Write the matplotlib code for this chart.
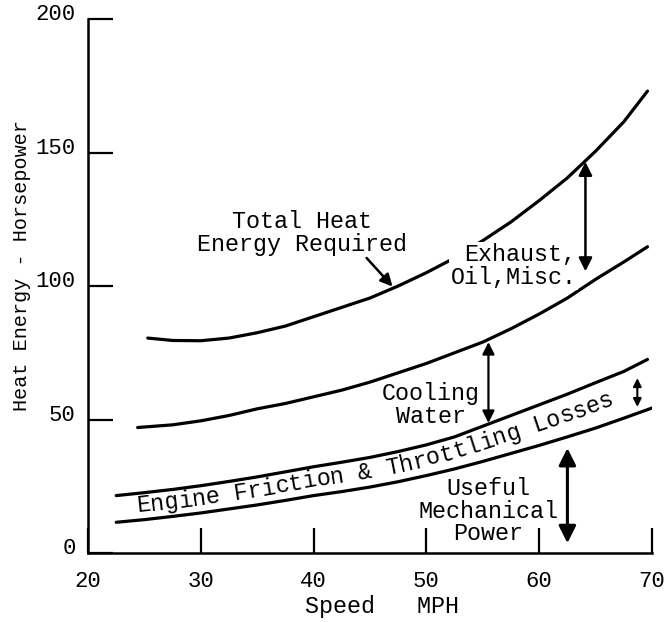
import numpy as np
import matplotlib
matplotlib.use("Agg")
import matplotlib.pyplot as plt
from matplotlib.transforms import ScaledTranslation

# curves (speed in MPH, heat energy in hp)
total_x = [25.3, 27.5, 30, 32.5, 35, 37.5, 40, 42.5, 45, 47.5, 50, 52.5,
           55, 57.5, 60, 62.5, 65, 67.5, 69.6]
total_y = [80.5, 79.6, 79.5, 80.5, 82.5, 85, 88.5, 92, 95.5, 100, 105, 110.5,
           117, 124, 132, 140.5, 150.5, 161.5, 173]

cool_x = [24.4, 27.5, 30, 32.5, 35, 37.5, 40, 42.5, 45, 47.5, 50, 52.5,
          55, 57.5, 60, 62.5, 65, 67.5, 69.6]
cool_y = [47, 48, 49.5, 51.5, 54, 56, 58.5, 61, 64, 67.5, 71, 75,
          79, 84, 89.5, 95.5, 102.5, 109, 114.7]

fric_x = [22.5, 25, 27.5, 30, 32.5, 35, 37.5, 40, 42.5, 45, 47.5, 50,
          52.5, 55, 57.5, 60, 62.5, 65, 67.5, 69.6]
fric_y = [21.5, 22.6, 23.8, 25.2, 26.8, 28.5, 30.4, 32.3, 34, 35.8, 38, 40.5,
          43.5, 47.5, 51.5, 55.5, 59.5, 63.8, 68, 72.5]

mech_x = [22.5, 25, 27.5, 30, 32.5, 35, 37.5, 40, 42.5, 45, 47.5, 50,
          52.5, 55, 57.5, 60, 62.5, 65, 67.5, 70]
mech_y = [11.5, 12.5, 13.7, 15, 16.5, 18, 19.7, 21.5, 23, 24.7, 26.7, 29,
          31.5, 34.3, 37.3, 40.3, 43.5, 46.8, 50.5, 54.3]

x_ticks = [20, 30, 40, 50, 60, 70]
y_ticks = [0, 50, 100, 150, 200]

band_text = "Engine Friction & Throttling Losses"

FONT = ["Liberation Mono", "DejaVu Sans Mono"]
plt.rcParams["font.family"] = FONT
FS = 16.8

fig = plt.figure(figsize=(6.64, 6.22), dpi=100)
ax = fig.add_axes([88 / 664, 1 - 553 / 622, (652 - 88) / 664, (553 - 19) / 622])

ax.set_xlim(20, 70)
ax.set_ylim(0, 200)
for s in ["top", "right"]:
    ax.spines[s].set_visible(False)
for s in ["left", "bottom"]:
    ax.spines[s].set_linewidth(1.8)

ax.set_xticks(x_ticks)
ax.set_yticks(y_ticks)
ax.tick_params(direction="in", length=18, width=1.6, labelsize=16)
ax.tick_params(axis="x", pad=13)
ax.tick_params(axis="y", pad=9)
for lab in ax.get_yticklabels():
    lab.set_transform(lab.get_transform() + ScaledTranslation(0, 5 / 72, fig.dpi_scale_trans))

lw = 2.3
for cx, cy in [(total_x, total_y), (cool_x, cool_y), (fric_x, fric_y), (mech_x, mech_y)]:
    ax.plot(cx, cy, color="black", lw=lw, solid_capstyle="round",
            solid_joinstyle="round", zorder=2)

# labels
ax.text(39, 120, "Total Heat\nEnergy Required", fontsize=FS, ha="center", va="center",
        linespacing=1.0)
ax.text(63.3, 107.5, "Exhaust,\nOil,Misc.", fontsize=FS, ha="right", va="center",
        multialignment="right", linespacing=1.0, zorder=3,
        bbox=dict(facecolor="white", edgecolor="none", pad=1))
ax.text(50.4, 55.4, "Cooling\nWater", fontsize=FS, ha="center", va="center",
        linespacing=1.0)
ax.text(55.5, 15.7, "Useful\nMechanical\nPower", fontsize=FS, ha="center", va="center",
        linespacing=0.95)


def dbl_arrow(x, y0, y1, size, lw_):
    ax.annotate("", xy=(x, y1), xytext=(x, y0),
                arrowprops=dict(arrowstyle="<|-|>", color="black", lw=lw_,
                                mutation_scale=size, shrinkA=0, shrinkB=0))


dbl_arrow(64.1, 105.5, 146.5, 20, 1.8)
dbl_arrow(55.5, 48.7, 79.0, 18, 1.6)
dbl_arrow(68.7, 54.7, 65.5, 12, 1.5)
dbl_arrow(62.5, 3.7, 39.3, 26, 2.2)
ax.annotate("", xy=(47, 99.8), xytext=(44.7, 110.5),
            arrowprops=dict(arrowstyle="-|>", color="black", lw=1.8,
                            mutation_scale=18, shrinkA=0, shrinkB=0))

# text following the friction band
xs = np.linspace(22.5, 69.6, 400)
mid = (np.interp(xs, fric_x, fric_y) + np.interp(xs, mech_x, mech_y)) / 2
pts = ax.transData.transform(np.column_stack([xs, mid]))
arc = np.concatenate([[0], np.cumsum(np.hypot(np.diff(pts[:, 0]), np.diff(pts[:, 1])))])
start = np.interp(ax.transData.transform((24.3, 0))[0], pts[:, 0], arc)
adv = 14.0 * fig.dpi / 100
inv = ax.transData.inverted()
for i, ch in enumerate(band_text):
    s = start + (i + 0.5) * adv
    px = np.interp(s, arc, pts[:, 0])
    py = np.interp(s, arc, pts[:, 1])
    dxs = np.interp(s + 3, arc, pts[:, 0]) - np.interp(s - 3, arc, pts[:, 0])
    dys = np.interp(s + 3, arc, pts[:, 1]) - np.interp(s - 3, arc, pts[:, 1])
    ang = np.arctan2(dys, dxs)
    off = 5.5
    bx = px + off * np.sin(ang)
    by = py - off * np.cos(ang)
    dx, dy = inv.transform((bx, by))
    ax.text(dx, dy, ch, fontsize=FS, ha="center", va="baseline",
            rotation=np.degrees(ang), rotation_mode="anchor")

fig.text(22 / 664, 1 - 266 / 622, "Heat Energy - Horsepower", fontsize=14.5,
         rotation=90, ha="center", va="center")
fig.text(382 / 664, 1 - 606 / 622, "Speed   MPH", fontsize=FS, ha="center", va="center")

fig.savefig("out.png", dpi=100)
plt.close(fig)
